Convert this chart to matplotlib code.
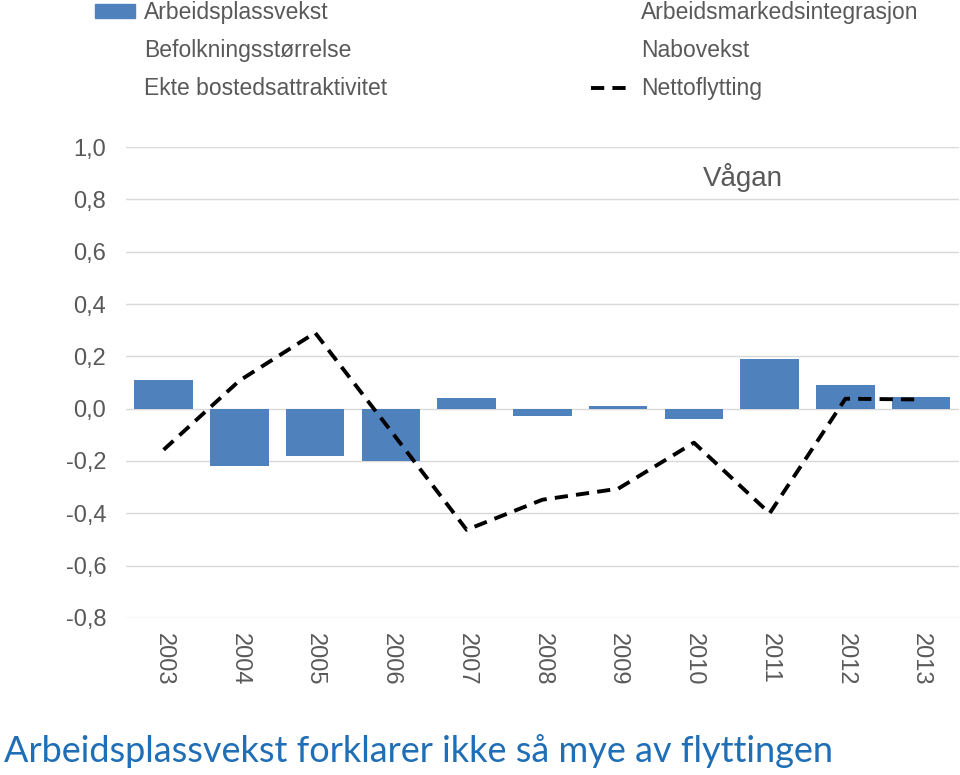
import matplotlib
matplotlib.use('Agg')
import matplotlib.pyplot as plt
from matplotlib.patches import Patch
from matplotlib.lines import Line2D
import numpy as np

plt.rcParams['font.family'] = ['Liberation Sans', 'DejaVu Sans']

years = ['2003', '2004', '2005', '2006', '2007', '2008', '2009', '2010', '2011', '2012', '2013']
arbeidsplassvekst = [0.11, -0.22, -0.18, -0.20, 0.042, -0.027, 0.01, -0.04, 0.19, 0.09, 0.046]
nettoflytting = [-0.157, 0.107, 0.29, -0.085, -0.463, -0.348, -0.306, -0.13, -0.40, 0.038, 0.035]
legend_labels = ['Arbeidsplassvekst', 'Befolkningsstørrelse', 'Ekte bostedsattraktivitet',
                 'Arbeidsmarkedsintegrasjon', 'Nabovekst', 'Nettoflytting']
yticks = [-0.8, -0.6, -0.4, -0.2, 0.0, 0.2, 0.4, 0.6, 0.8, 1.0]

bar_col = '#4F81BD'
txt_col = '#595959'
dash = (0, (3.4, 2.1))

fig = plt.figure(figsize=(9.6, 7.75), dpi=100)
ax = fig.add_axes([0.131, 0.2026, 0.868, 0.6077])

x = np.arange(len(years))
ax.bar(x, arbeidsplassvekst, width=0.77, color=bar_col, zorder=2)
ax.plot(x, nettoflytting, color='black', lw=2.8, ls=dash, zorder=3)

ax.set_xlim(-0.5, len(years) - 0.5)
ax.set_ylim(-0.8, 1.0)
ax.set_yticks(yticks)
ax.set_yticklabels([f'{v:.1f}'.replace('.', ',') for v in yticks])
ax.set_xticks(x)
ax.set_xticklabels(years, rotation=-90)
ax.tick_params(axis='both', length=0, labelsize=17, colors=txt_col)
ax.tick_params(axis='y', pad=14)
ax.tick_params(axis='x', pad=11)
for sp in ax.spines.values():
    sp.set_visible(False)
ax.grid(axis='y', color='#D9D9D9', lw=1, zorder=0)
ax.set_axisbelow(True)

ax.text(0.741, 0.936, 'Vågan', transform=ax.transAxes, ha='center', va='center',
        fontsize=20, color=txt_col)

handles = [Patch(color=bar_col),
           Patch(facecolor='none', edgecolor='none'),
           Patch(facecolor='none', edgecolor='none'),
           Patch(facecolor='none', edgecolor='none'),
           Patch(facecolor='none', edgecolor='none'),
           Line2D([], [], color='black', lw=2.8, ls=dash)]
fig.legend(handles, legend_labels, ncol=2, loc='upper left', bbox_to_anchor=(0.099, 0.999),
           frameon=False, fontsize=16.5, labelcolor=txt_col, handlelength=1.75,
           handleheight=0.55, handletextpad=0.4, columnspacing=8.9, labelspacing=0.67,
           borderpad=0, borderaxespad=0)

fig.text(0.004, 0.017, 'Arbeidsplassvekst forklarer ikke så mye av flyttingen',
         fontsize=26, color='#1F6EB6', family=['Lato', 'DejaVu Sans'])

fig.savefig('out.png', dpi=100)
